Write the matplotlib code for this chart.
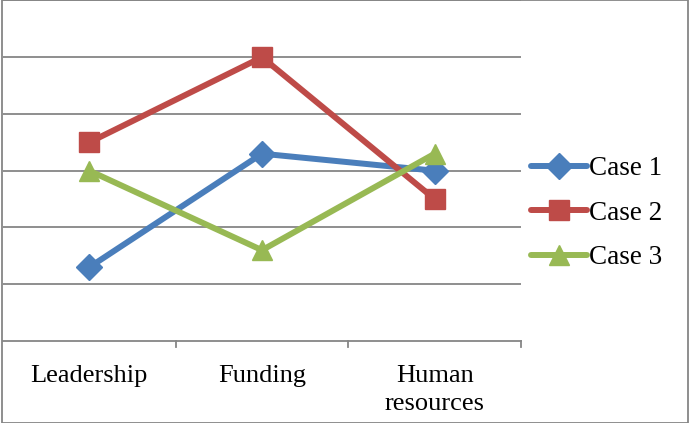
import matplotlib.pyplot as plt
from matplotlib.patches import Rectangle

categories = ["Leadership", "Funding", "Human\nresources"]
case1 = [1.3, 3.3, 3.0]
case2 = [3.5, 5.0, 2.5]
case3 = [3.0, 1.6, 3.3]
series_names = ["Case 1", "Case 2", "Case 3"]

plt.rcParams["font.family"] = ["Liberation Serif", "DejaVu Serif"]

W, H, DPI = 690, 423, 100
fig = plt.figure(figsize=(W / DPI, H / DPI), dpi=DPI)
ax = fig.add_axes([3 / W, (H - 341) / H, (521 - 3) / W, 341 / H - 0.001])

x = range(len(categories))
styles = [
    (case1, "#4A7EBB", "D", 13),
    (case2, "#BE4B48", "s", 14),
    (case3, "#98B954", "^", 15),
]
for (vals, color, marker, ms), name in zip(styles, series_names):
    ax.plot(x, vals, color=color, lw=4.3, marker=marker, ms=ms,
            markeredgecolor=color, label=name, solid_capstyle="round",
            zorder=3)

ax.set_xlim(-0.5, len(categories) - 0.5)
ax.set_ylim(0, 6)
ax.set_yticks([1, 2, 3, 4, 5, 6])
ax.yaxis.grid(True, color="#868686", lw=1.3)
ax.set_axisbelow(True)
ax.tick_params(axis="y", left=False, labelleft=False)

# Category labels centred, tick marks on the category boundaries
ax.set_xticks(list(x))
ax.set_xticklabels(categories, fontsize=19, linespacing=1.35)
ax.tick_params(axis="x", length=0, pad=17)
for b in [0.5, 1.5, 2.5]:
    ax.plot([b, b], [0, -0.1], color="#868686", lw=1.3, clip_on=False)

for s in ["left", "top", "right"]:
    ax.spines[s].set_visible(False)
ax.spines["bottom"].set_color("#868686")
ax.spines["bottom"].set_linewidth(1.3)

leg = ax.legend(loc="center left", bbox_to_anchor=(531 / W, (H - 213) / H),
                bbox_transform=fig.transFigure, frameon=False, fontsize=19.5,
                handlelength=2.05, handletextpad=0.1, labelspacing=0.72,
                borderpad=0, borderaxespad=0)

# Outer chart border
fig.patches.append(Rectangle((1.5 / W, 0), (W - 4) / W, 1 - 0.5 / H,
                             transform=fig.transFigure, fill=False,
                             edgecolor="#868686", lw=1.3))

fig.savefig("out.png", dpi=DPI)
